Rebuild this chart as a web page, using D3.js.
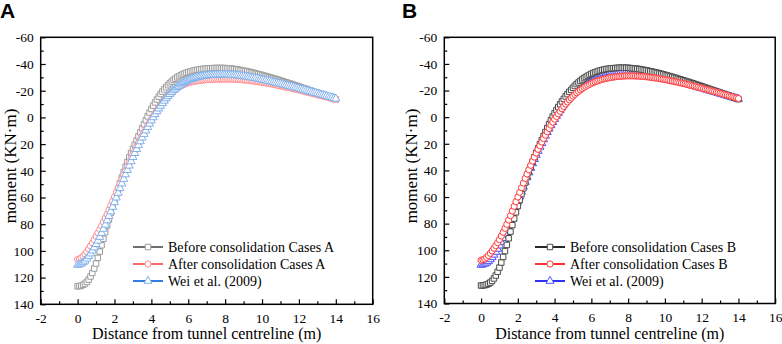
<!DOCTYPE html>
<html lang="en">
  <head>
    <meta charset="UTF-8" />
    <title>Moment along tunnel lining - Cases A and B</title>
    <script src="https://d3js.org/d3.v7.min.js"></script>
    <style>
      body {
        margin: 0;
        background-color: #fff;
      }
      .tick line {
        stroke: #000;
        stroke-width: 1.2;
      }
      .axis-title {
        font-family: "Liberation Serif", "Times New Roman", serif;
      }
      .legend text {
        font-family: "Liberation Serif", "Times New Roman", serif;
        font-size: 14px;
      }
      .panel-label {
        font-family: "Liberation Sans", Arial, sans-serif;
        font-weight: bold;
        font-size: 21px;
      }
    </style>
  </head>
  <body>
    <div class="chart"></div>

    <script>
      // distance from tunnel centreline (m)
      const xs = [
        0, 0.1, 0.2, 0.3, 0.4, 0.5, 0.6, 0.7, 0.8, 0.9,
        1, 1.1, 1.2, 1.3, 1.4, 1.5, 1.6, 1.7, 1.8, 1.9,
        2, 2.1, 2.2, 2.3, 2.4, 2.5, 2.6, 2.7, 2.8, 2.9,
        3, 3.1, 3.2, 3.3, 3.4, 3.5, 3.6, 3.7, 3.8, 3.9,
        4, 4.1, 4.2, 4.3, 4.4, 4.5, 4.6, 4.7, 4.8, 4.9,
        5, 5.1, 5.2, 5.3, 5.4, 5.5, 5.6, 5.7, 5.8, 5.9,
        6, 6.1, 6.2, 6.3, 6.4, 6.5, 6.6, 6.7, 6.8, 6.9,
        7, 7.1, 7.2, 7.3, 7.4, 7.5, 7.6, 7.7, 7.8, 7.9,
        8, 8.1, 8.2, 8.3, 8.4, 8.5, 8.6, 8.7, 8.8, 8.9,
        9, 9.1, 9.2, 9.3, 9.4, 9.5, 9.6, 9.7, 9.8, 9.9,
        10, 10.1, 10.2, 10.3, 10.4, 10.5, 10.6, 10.7, 10.8, 10.9,
        11, 11.1, 11.2, 11.3, 11.4, 11.5, 11.6, 11.7, 11.8, 11.9,
        12, 12.1, 12.2, 12.3, 12.4, 12.5, 12.6, 12.7, 12.8, 12.9,
        13, 13.1, 13.2, 13.3, 13.4, 13.5, 13.6, 13.7, 13.8, 13.9,
        14,
      ];

      // moment (KN·m), Cases A
      const beforeA = [
        126.5, 126.4, 126.0, 125.4, 124.5, 123.2, 121.5, 119.2, 116.5, 113.2,
        109.5, 105.2, 100.5, 95.8, 91.0, 86.0, 81.0, 76.2, 71.5, 66.7,
        62.0, 57.7, 53.5, 49.2, 45.0, 41.0, 37.0, 33.4, 30.0, 26.7,
        23.5, 20.4, 17.3, 14.2, 11.2, 8.2, 5.2, 2.2, -0.8, -3.6,
        -6.3, -8.8, -11.2, -13.4, -15.5, -17.5, -19.3, -21.0, -22.6, -24.1,
        -25.5, -26.8, -28.0, -29.0, -30.0, -30.8, -31.6, -32.3, -32.9, -33.4,
        -33.9, -34.3, -34.7, -35.1, -35.4, -35.7, -35.9, -36.1, -36.3, -36.5,
        -36.6, -36.7, -36.8, -36.9, -36.9, -37.0, -37.0, -37.0, -37.0, -37.0,
        -36.9, -36.8, -36.7, -36.6, -36.4, -36.2, -36.0, -35.8, -35.5, -35.3,
        -35.0, -34.7, -34.4, -34.1, -33.8, -33.5, -33.1, -32.8, -32.4, -32.1,
        -31.7, -31.3, -30.9, -30.5, -30.1, -29.7, -29.3, -28.9, -28.5, -28.1,
        -27.6, -27.2, -26.7, -26.3, -25.8, -25.4, -24.9, -24.5, -24.0, -23.6,
        -23.1, -22.6, -22.1, -21.7, -21.2, -20.7, -20.2, -19.8, -19.3, -18.8,
        -18.3, -17.8, -17.3, -16.9, -16.4, -15.9, -15.4, -14.9, -14.4, -13.9,
        -13.4,
      ];
      const afterA = [
        106.5, 106.0, 105.2, 104.0, 102.5, 100.6, 98.5, 96.3, 94.0, 91.5,
        89.0, 86.5, 84.0, 81.3, 78.5, 75.5, 72.5, 69.3, 66.0, 62.8,
        59.5, 56.2, 53.0, 49.7, 46.5, 43.2, 40.0, 36.9, 33.8, 30.8,
        27.8, 24.9, 22.0, 19.2, 16.5, 13.8, 11.2, 8.7, 6.2, 3.8,
        1.5, -0.7, -2.9, -5.0, -7.0, -8.9, -10.8, -12.5, -14.2, -15.7,
        -17.2, -18.5, -19.8, -20.9, -21.9, -22.8, -23.6, -24.3, -24.9, -25.4,
        -25.9, -26.3, -26.6, -26.9, -27.2, -27.4, -27.6, -27.8, -27.9, -28.1,
        -28.2, -28.3, -28.4, -28.5, -28.5, -28.6, -28.6, -28.7, -28.7, -28.7,
        -28.7, -28.7, -28.7, -28.7, -28.6, -28.6, -28.5, -28.4, -28.3, -28.2,
        -28.1, -28.0, -27.8, -27.7, -27.5, -27.3, -27.1, -26.9, -26.7, -26.5,
        -26.3, -26.1, -25.8, -25.6, -25.3, -25.1, -24.8, -24.5, -24.2, -23.9,
        -23.6, -23.3, -23.0, -22.7, -22.4, -22.1, -21.8, -21.5, -21.1, -20.8,
        -20.5, -20.2, -19.8, -19.5, -19.1, -18.8, -18.4, -18.1, -17.7, -17.4,
        -17.0, -16.7, -16.3, -16.0, -15.6, -15.3, -14.9, -14.6, -14.2, -13.9,
        -13.5,
      ];
      const weiA = [
        110.5, 110.2, 109.6, 108.6, 107.4, 105.8, 104.0, 102.0, 99.8, 97.5,
        95.0, 92.4, 89.6, 86.7, 83.6, 80.4, 77.2, 73.9, 70.5, 67.1,
        63.6, 60.1, 56.6, 53.1, 49.6, 46.2, 42.8, 39.5, 36.2, 33.0,
        29.8, 26.8, 23.8, 20.9, 18.0, 15.2, 12.5, 9.9, 7.3, 4.8,
        2.3, 0.0, -2.3, -4.5, -6.6, -8.6, -10.6, -12.4, -14.2, -15.8,
        -17.4, -18.8, -20.2, -21.4, -22.6, -23.6, -24.6, -25.5, -26.3, -27.0,
        -27.7, -28.3, -28.8, -29.3, -29.7, -30.1, -30.4, -30.7, -30.9, -31.1,
        -31.3, -31.5, -31.6, -31.7, -31.8, -31.9, -31.9, -32.0, -32.0, -32.0,
        -32.0, -32.0, -31.9, -31.8, -31.7, -31.6, -31.5, -31.4, -31.2, -31.0,
        -30.8, -30.6, -30.4, -30.2, -29.9, -29.7, -29.4, -29.2, -28.9, -28.6,
        -28.3, -28.0, -27.7, -27.4, -27.1, -26.8, -26.4, -26.1, -25.8, -25.5,
        -25.1, -24.8, -24.4, -24.1, -23.7, -23.4, -23.0, -22.7, -22.3, -22.0,
        -21.6, -21.3, -20.9, -20.5, -20.1, -19.8, -19.4, -19.0, -18.6, -18.3,
        -17.9, -17.5, -17.1, -16.8, -16.4, -16.0, -15.6, -15.2, -14.8, -14.4,
        -14.0,
      ];

      // moment (KN·m), Cases B
      const beforeB = [
        126.5, 126.4, 126.2, 125.8, 125.2, 124.3, 123.0, 121.2, 119.0, 116.2,
        113.0, 109.2, 105.0, 100.6, 96.0, 91.0, 86.0, 81.1, 76.2, 71.5,
        66.8, 62.3, 57.8, 53.5, 49.2, 45.1, 41.0, 37.2, 33.5, 30.1,
        26.7, 23.5, 20.3, 17.2, 14.2, 11.2, 8.2, 5.2, 2.2, -0.5,
        -3.0, -5.3, -7.6, -9.7, -11.8, -13.7, -15.6, -17.3, -19.0, -20.5,
        -22.0, -23.4, -24.8, -26.0, -27.2, -28.3, -29.3, -30.2, -31.0, -31.8,
        -32.5, -33.1, -33.7, -34.2, -34.7, -35.1, -35.5, -35.8, -36.1, -36.3,
        -36.5, -36.7, -36.8, -36.9, -37.0, -37.1, -37.1, -37.1, -37.1, -37.1,
        -37.0, -36.9, -36.8, -36.7, -36.5, -36.3, -36.1, -35.9, -35.6, -35.4,
        -35.1, -34.8, -34.5, -34.2, -33.9, -33.6, -33.2, -32.9, -32.5, -32.2,
        -31.8, -31.4, -31.0, -30.6, -30.2, -29.8, -29.4, -28.9, -28.5, -28.1,
        -27.7, -27.2, -26.8, -26.4, -25.9, -25.5, -25.0, -24.6, -24.1, -23.7,
        -23.2, -22.7, -22.2, -21.8, -21.3, -20.8, -20.3, -19.9, -19.4, -18.9,
        -18.4, -17.9, -17.4, -17.0, -16.5, -16.0, -15.5, -15.0, -14.5, -14.0,
        -13.5,
      ];
      const afterB = [
        107.5, 107.1, 106.5, 105.4, 104.0, 102.3, 100.5, 98.5, 96.5, 94.3,
        92.0, 89.3, 86.5, 83.5, 80.5, 77.3, 74.0, 70.5, 67.0, 63.5,
        60.0, 56.5, 53.0, 49.5, 46.0, 42.7, 39.5, 36.2, 33.0, 30.0,
        27.0, 24.2, 21.5, 18.7, 16.0, 13.5, 11.0, 8.5, 6.0, 3.7,
        1.5, -0.5, -2.5, -4.4, -6.3, -8.1, -9.8, -11.4, -13.0, -14.4,
        -15.8, -17.1, -18.3, -19.4, -20.5, -21.5, -22.4, -23.2, -24.0, -24.7,
        -25.4, -26.0, -26.6, -27.1, -27.6, -28.0, -28.4, -28.8, -29.1, -29.4,
        -29.7, -29.9, -30.1, -30.3, -30.5, -30.6, -30.7, -30.8, -30.9, -31.0,
        -31.0, -31.0, -31.0, -31.0, -30.9, -30.9, -30.8, -30.7, -30.6, -30.5,
        -30.3, -30.2, -30.0, -29.8, -29.6, -29.4, -29.2, -29.0, -28.7, -28.5,
        -28.2, -28.0, -27.7, -27.4, -27.1, -26.8, -26.5, -26.2, -25.9, -25.6,
        -25.3, -25.0, -24.6, -24.3, -23.9, -23.6, -23.2, -22.9, -22.5, -22.2,
        -21.8, -21.4, -21.0, -20.7, -20.3, -19.9, -19.5, -19.2, -18.8, -18.4,
        -18.0, -17.6, -17.2, -16.8, -16.4, -16.0, -15.6, -15.2, -14.8, -14.4,
        -14.0,
      ];
      const weiB = [
        111.0, 110.7, 110.2, 109.4, 108.3, 106.9, 105.3, 103.4, 101.3, 99.0,
        96.5, 93.8, 91.0, 88.0, 84.8, 81.5, 78.0, 74.4, 70.8, 67.1,
        63.5, 59.7, 56.0, 52.3, 48.7, 45.1, 41.6, 38.2, 34.8, 31.6,
        28.4, 25.4, 22.4, 19.5, 16.7, 14.0, 11.3, 8.7, 6.2, 3.8,
        1.4, -0.9, -3.1, -5.2, -7.3, -9.3, -11.2, -13.0, -14.8, -16.5,
        -18.1, -19.6, -21.0, -22.3, -23.6, -24.7, -25.8, -26.8, -27.7, -28.5,
        -29.3, -30.0, -30.6, -31.2, -31.7, -32.1, -32.5, -32.9, -33.2, -33.5,
        -33.7, -33.9, -34.0, -34.1, -34.2, -34.3, -34.3, -34.3, -34.3, -34.3,
        -34.2, -34.1, -34.0, -33.9, -33.7, -33.5, -33.3, -33.1, -32.9, -32.7,
        -32.4, -32.2, -31.9, -31.6, -31.3, -31.0, -30.7, -30.4, -30.1, -29.8,
        -29.4, -29.1, -28.7, -28.4, -28.0, -27.7, -27.3, -26.9, -26.5, -26.1,
        -25.7, -25.3, -24.9, -24.5, -24.1, -23.7, -23.3, -22.9, -22.5, -22.1,
        -21.7, -21.3, -20.9, -20.5, -20.1, -19.7, -19.3, -18.9, -18.5, -18.0,
        -17.6, -17.2, -16.8, -16.4, -16.0, -15.6, -15.2, -14.8, -14.4, -14.0,
        -13.6,
      ];

      const xTicks = [-2, 0, 2, 4, 6, 8, 10, 12, 14, 16];
      const xMinor = [-1, 1, 3, 5, 7, 9, 11, 13, 15];
      const yTicks = [-60, -40, -20, 0, 20, 40, 60, 80, 100, 120, 140];
      const yMinor = [-50, -30, -10, 10, 30, 50, 70, 90, 110, 130];

      const W = 782,
        H = 344;
      const serif = "'Liberation Serif', 'Times New Roman', serif";

      const svg = d3
        .select(".chart")
        .append("svg")
        .attr("width", W)
        .attr("height", H);

      const panels = [
        {
          label: "A",
          box: { left: 40.7, right: 372.7, top: 37.3, bottom: 304.3 },
          labelX: 0,
          titleX: 16,
          // drawing order
          series: [
            {
              name: "Before consolidation Cases A",
              values: beforeA,
              shape: d3.symbolSquare,
              size: 30,
              line: "#5e5e5e",
              mark: "#9c9c9c",
            },
            {
              name: "After consolidation Cases A",
              values: afterA,
              shape: d3.symbolCircle,
              size: 30,
              line: "#ff5a5a",
              mark: "#ff8c8c",
            },
            {
              name: "Wei et al. (2009)",
              values: weiA,
              shape: d3.symbolTriangle,
              size: 28,
              line: "#1f6fe0",
              mark: "#80b0ee",
            },
          ],
          legendOrder: [0, 1, 2],
          legend: { x: 133, y: 247 },
        },
        {
          label: "B",
          box: { left: 444.3, right: 775.2, top: 37.3, bottom: 303.5 },
          labelX: 402,
          titleX: 417,
          series: [
            {
              name: "Wei et al. (2009)",
              values: weiB,
              shape: d3.symbolTriangle,
              size: 28,
              line: "#1a1aff",
              mark: "#5050ff",
            },
            {
              name: "Before consolidation Cases B",
              values: beforeB,
              shape: d3.symbolSquare,
              size: 30,
              line: "#111111",
              mark: "#4a4a4a",
            },
            {
              name: "After consolidation Cases B",
              values: afterB,
              shape: d3.symbolCircle,
              size: 30,
              line: "#ff1a1a",
              mark: "#ff3838",
            },
          ],
          legendOrder: [1, 2, 0],
          legend: { x: 535, y: 247 },
        },
      ];

      panels.forEach((p) => {
        const b = p.box;
        const x = d3.scaleLinear().domain([-2, 16]).range([b.left, b.right]);
        const y = d3.scaleLinear().domain([-60, 140]).range([b.top, b.bottom]);
        const g = svg.append("g");

        const line = d3
          .line()
          .x((d) => x(d.x))
          .y((d) => y(d.v))
          .curve(d3.curveMonotoneX);

        // each series: line, then hollow markers on top
        p.series.forEach((s) => {
          const pts = xs.map((xv, i) => ({ x: xv, v: s.values[i] }));
          const sg = g.append("g");
          sg.append("path")
            .attr("d", line(pts))
            .attr("fill", "none")
            .attr("stroke", s.line)
            .attr("stroke-width", 1.6);
          sg.selectAll("path.mk")
            .data(pts)
            .enter()
            .append("path")
            .attr("class", "mk")
            .attr("d", d3.symbol().type(s.shape).size(s.size))
            .attr("transform", (d) => `translate(${x(d.x)},${y(d.v)})`)
            .attr("fill", "#fff")
            .attr("stroke", s.mark)
            .attr("stroke-width", 1);
        });

        // axes, ticks pointing inward
        const fmt = (d) => String(d);
        const styleAxis = (a) => {
          a.select(".domain").remove();
          a.attr("font-family", serif).attr("font-size", 13.5);
          a.selectAll(".tick text").attr("fill", "#000");
        };
        g.append("g")
          .attr("transform", `translate(${b.left},0)`)
          .call(
            d3.axisLeft(y).tickValues(yTicks).tickSize(-5).tickPadding(7).tickFormat(fmt)
          )
          .call(styleAxis);
        g.append("g")
          .attr("transform", `translate(${b.left},0)`)
          .call(d3.axisLeft(y).tickValues(yMinor).tickSize(-3).tickFormat(""))
          .call(styleAxis);
        g.append("g")
          .attr("transform", `translate(0,${b.bottom})`)
          .call(
            d3.axisBottom(x).tickValues(xTicks).tickSize(-5).tickPadding(9).tickFormat(fmt)
          )
          .call(styleAxis);
        g.append("g")
          .attr("transform", `translate(0,${b.bottom})`)
          .call(d3.axisBottom(x).tickValues(xMinor).tickSize(-3).tickFormat(""))
          .call(styleAxis);

        g.append("rect")
          .attr("x", b.left)
          .attr("y", b.top)
          .attr("width", b.right - b.left)
          .attr("height", b.bottom - b.top)
          .attr("fill", "none")
          .attr("stroke", "#000")
          .attr("stroke-width", 1.5);

        // titles
        g.append("text")
          .attr("class", "axis-title")
          .attr("font-size", 16)
          .attr("x", (b.left + b.right) / 2)
          .attr("y", 339)
          .attr("text-anchor", "middle")
          .text("Distance from tunnel centreline (m)");
        g.append("text")
          .attr("class", "axis-title")
          .attr("font-size", 17)
          .attr("transform", `translate(${p.titleX},166) rotate(-90)`)
          .attr("text-anchor", "middle")
          .text("moment (KN·m)");
        g.append("text")
          .attr("class", "panel-label")
          .attr("x", p.labelX)
          .attr("y", 18)
          .text(p.label);

        // legend
        const lg = g
          .append("g")
          .attr("class", "legend")
          .attr("transform", `translate(${p.legend.x},${p.legend.y})`);
        p.legendOrder.forEach((si, i) => {
          const s = p.series[si];
          const row = lg.append("g").attr("transform", `translate(0,${i * 17})`);
          row.append("line")
            .attr("x1", 0)
            .attr("x2", 30)
            .attr("stroke", s.line)
            .attr("stroke-width", 1.8);
          row.append("path")
            .attr("d", d3.symbol().type(s.shape).size(s.size))
            .attr("transform", "translate(15,0)")
            .attr("fill", "#fff")
            .attr("stroke", s.mark)
            .attr("stroke-width", 1);
          row.append("text").attr("x", 35).attr("y", 5).text(s.name);
        });
      });
    </script>
  </body>
</html>
